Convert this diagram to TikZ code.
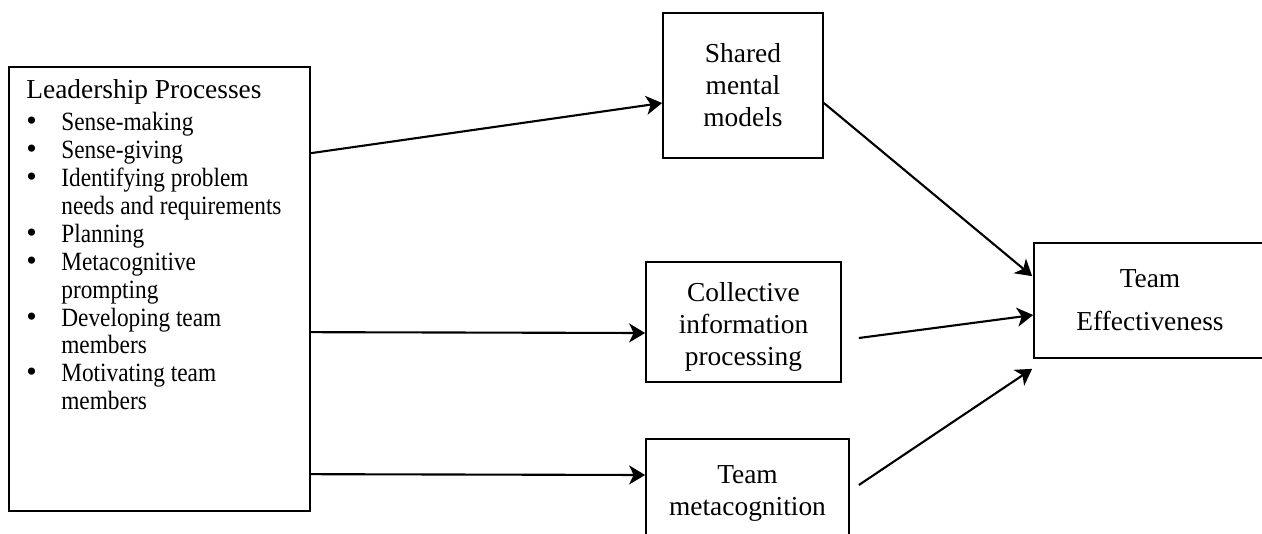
\documentclass[tikz,border=0pt]{standalone}
\usepackage{fontspec}
\setmainfont{Liberation Serif}
\newfontfamily\itemfont[FakeStretch=0.885]{Liberation Serif}
\newcommand{\lpbullet}{{\normalfont\fontsize{17}{15.9}\selectfont\textbullet}}
\usepackage{tikz}
\usetikzlibrary{arrows.meta, calc, positioning}

\begin{document}
\begin{tikzpicture}[
  x=0.02cm, y=-0.02cm,
  box/.style={rectangle, draw=black, line width=1pt, inner sep=0pt, align=center,
    font=\fontsize{15.6}{18.2}\selectfont},
  boxtext/.style={inner sep=0pt, align=center, font=\fontsize{15.6}{18.2}\selectfont},
  arrow/.style={-{Stealth[length=0.32cm, width=0.38cm, inset=0.09cm]}, line width=1.2pt}
]

% --- Rahmen ---
\path[use as bounding box, clip] (0,0) rectangle (1262,534);

% --- Leadership-Block links ---
\node[box, minimum width=6.02cm, minimum height=8.88cm] (leader) at (159.5,289) {};
\node[anchor=base west, inner sep=0pt, font=\itemfont\fontsize{15}{15.9}\selectfont] (leadertext) at (26,98.5) {%
  \begin{tabular}[t]{@{}p{0.7cm}@{}l@{}}
    \multicolumn{2}{@{}l@{}}{\normalfont\fontsize{15.6}{15.9}\selectfont Leadership Processes}\\[2.3pt]
    \lpbullet & Sense-making\\
    \lpbullet & Sense-giving\\
    \lpbullet & Identifying problem\\
              & needs and requirements\\
    \lpbullet & Planning\\
    \lpbullet & Metacognitive\\
              & prompting\\
    \lpbullet & Developing team\\
              & members\\
    \lpbullet & Motivating team\\
              & members
  \end{tabular}};

% --- Mittlere Ebene ---
\node[box, minimum width=3.2cm, minimum height=2.9cm] (shared) at (743,85.5) {Shared\\ mental\\ models};
\node[box, minimum width=3.9cm, minimum height=2.4cm] (collective) at (743.5,322) {};
\node[boxtext] (collectivetext) at ($(collective.center)+(0,5)$) {Collective\\ information\\ processing};
\node[box, minimum width=4.06cm, minimum height=2.18cm] (metacog) at (747.5,493.5) {Team\\ metacognition};

% --- Ergebnis ---
\node[box, minimum width=4.64cm, minimum height=2.3cm, font=\fontsize{15.6}{24.5}\selectfont] (teameff) at (1150,300.5) {Team\\ Effectiveness};

% Verbindungen
\draw[arrow] ($(leader.north east)+(0,87)$) -- ($(shared.west)+(0,17.5)$);
\draw[arrow] ($(leader.north east)+(0,266)$) -- ($(collective.west)+(0,11)$);
\draw[arrow] ($(leader.north east)+(0,408)$) -- ($(metacog.west)+(0,-18.5)$);

\draw[arrow] ($(shared.east)+(0,17.5)$) -- ($(teameff.north west)+(-1,34)$);
\draw[arrow] ($(collective.east)+(17,16)$) -- ($(teameff.west)+(0,14.5)$);
\draw[arrow] ($(metacog.east)+(9,-8.5)$) -- ($(teameff.south west)+(-1,10)$);
\end{tikzpicture}
\end{document}
